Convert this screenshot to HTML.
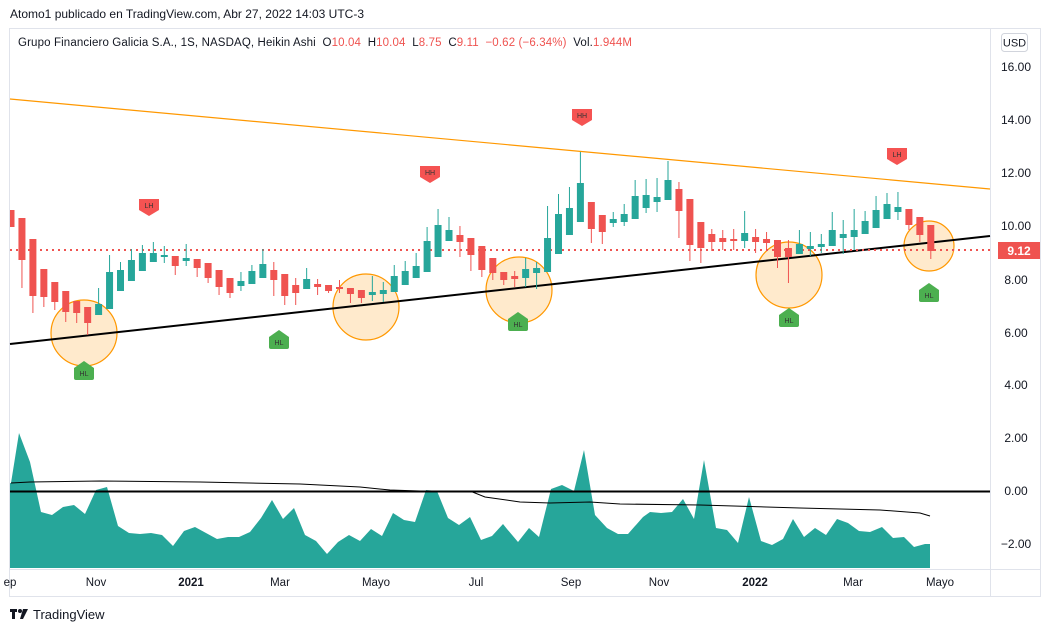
<!DOCTYPE html>
<html><head><meta charset="utf-8"><style>
body{margin:0;background:#fff;width:1050px;height:632px;overflow:hidden;font-family:"Liberation Sans",sans-serif;}
svg{position:absolute;left:0;top:0}
</style></head><body>
<svg id="s" width="1050" height="632" xmlns="http://www.w3.org/2000/svg" font-family="Liberation Sans, sans-serif">
<text x="10" y="18" font-size="12" fill="#131722">Atomo1 publicado en TradingView.com, Abr 27, 2022 14:03 UTC-3</text>
<rect x="9.5" y="28.5" width="1031" height="568" fill="#fff" stroke="#e0e3eb"/>
<line x1="990.5" y1="28" x2="990.5" y2="597" stroke="#e0e3eb"/>
<line x1="9" y1="569.5" x2="1040" y2="569.5" stroke="#e0e3eb"/>
<text x="18" y="46" font-size="11.5" fill="#131722" textLength="614" lengthAdjust="spacing" xml:space="preserve">Grupo Financiero Galicia S.A., 1S, NASDAQ, Heikin Ashi  O<tspan fill="#ef5350">10.04</tspan>  H<tspan fill="#ef5350">10.04</tspan>  L<tspan fill="#ef5350">8.75</tspan>  C<tspan fill="#ef5350">9.11  −0.62 (−6.34%)</tspan>  Vol.<tspan fill="#ef5350">1.944M</tspan></text>
<rect x="1001.5" y="33.5" width="26" height="18" rx="3" fill="#fff" stroke="#d1d4dc"/>
<text x="1014.5" y="46.5" font-size="11" text-anchor="middle" fill="#131722">USD</text>
<g font-size="12" fill="#131722" text-anchor="middle">
<text x="1016" y="71">16.00</text><text x="1016" y="124">14.00</text><text x="1016" y="177">12.00</text><text x="1016" y="230">10.00</text><text x="1016" y="284">8.00</text><text x="1016" y="337">6.00</text><text x="1016" y="389">4.00</text><text x="1016" y="442">2.00</text><text x="1016" y="495">0.00</text><text x="1016" y="548">−2.00</text>
</g>
<g font-size="11.5" fill="#131722" text-anchor="middle">
<text x="10" y="586">ep</text><text x="96" y="586">Nov</text><text x="191" y="586" font-weight="bold">2021</text><text x="280" y="586">Mar</text><text x="376" y="586">Mayo</text><text x="476" y="586">Jul</text><text x="571" y="586">Sep</text><text x="659" y="586">Nov</text><text x="755" y="586" font-weight="bold">2022</text><text x="853" y="586">Mar</text><text x="940" y="586">Mayo</text>
</g>
<g id="ind"></g>
<line x1="10" y1="491.5" x2="990" y2="491.5" stroke="#000" stroke-width="2"/>
<polyline fill="none" stroke="#000" stroke-width="1" points="11,483 30,482 100,481 200,482 300,484 360,487 390,490 420,491 470,491 485,497 520,502 550,503 590,502 620,504 700,505 800,508 880,510 920,513 930,516"/>
<g id="circ"></g>
<line x1="10" y1="99" x2="990" y2="189" stroke="#ff9800" stroke-width="1.2"/>
<line x1="10" y1="344" x2="990" y2="236" stroke="#000" stroke-width="2"/>
<line x1="10" y1="250" x2="990" y2="250" stroke="#ef5350" stroke-width="2" stroke-dasharray="2,4"/>
<g id="c"></g>
<g id="lab"></g>
<rect x="998" y="242" width="42" height="17" fill="#ef5350"/>
<text x="1019" y="255" font-size="12" font-weight="bold" fill="#fff" text-anchor="middle">9.12</text>
<g transform="translate(10,607)"><rect x="0" y="2" width="7" height="3" fill="#131722"/><rect x="2" y="2" width="3" height="10" fill="#131722"/><circle cx="10" cy="4" r="2" fill="#131722"/><path d="M13 2h5l-5 10h-3z" fill="#131722"/></g>
<text x="33" y="619" font-size="13" fill="#131722">TradingView</text>
</svg>
<script>
var NS="http://www.w3.org/2000/svg";
function el(p,t,a){var e=document.createElementNS(NS,t);for(var k in a)e.setAttribute(k,a[k]);document.getElementById(p).appendChild(e);return e;}
var ind="11,483 19,433 30,462 41,512 52,515 63,507 74,505 85,514 96,490 107,487 118,526 129,533 140,534 151,533 162,535 173,546 184,531 195,527 206,533 217,539 228,537 239,537 250,532 261,518 272,500 283,519 294,508 305,535 316,541 327,554 338,542 349,535 360,541 371,529 382,536 393,513 404,520 415,522 426,490 437,491 448,518 459,525 470,517 481,540 492,536 503,524 507,529 518,542 529,528 539,537 551,489 562,485 574,491 584,450 595,515 607,528 618,534 628,534 643,517 650,512 661,513 672,512 683,499 694,519 704,460 716,528 727,530 738,543 749,497 761,541 772,545 783,539 793,519 804,537 815,528 826,535 837,519 848,523 859,531 870,532 882,527 893,538 904,537 914,547 925,544 930,544";
el("ind","polygon",{points:"10,568 10,483 "+ind+" 930,568",fill:"#26a69a"});
[[84,333,33],[366,307,33],[519,290,33],[789,275,33],[929,246,25]].forEach(function(c){el("circ","circle",{cx:c[0],cy:c[1],r:c[2],fill:"rgba(255,152,0,0.2)",stroke:"#ff9800","stroke-width":1.2});});
var d=[["r",210,227,210,227],["r",218,260,218,288],["r",239,296,239,313],["r",269,297,269,307],["r",282,302,282,310],["r",291,312,291,322],["r",301,313,301,323],["r",307,323,307,335],["g",304,315,288,315],["g",272,309,255,309],["g",270,291,262,291],["g",260,281,249,281],["g",253,271,245,271],["g",253,262,242,262],["g",255,257,246,263],["r",256,266,256,275],["g",258,261,244,266],["r",259,268,259,277],["r",263,278,263,283],["r",270,287,270,295],["r",278,293,278,298],["g",281,286,272,291],["g",271,284,265,284],["g",264,278,249,278],["r",270,280,262,296],["r",274,296,274,305],["r",285,293,278,305],["g",279,289,268,289],["r",284,287,279,295],["r",285,291,285,293],["r",287,289,280,293],["r",288,294,288,303],["r",290,298,290,303],["g",292,295,276,301],["g",290,294,282,302],["g",276,292,265,292],["g",271,285,261,285],["g",266,278,253,278],["g",241,272,227,272],["g",225,257,209,257],["g",230,241,217,241],["r",235,242,226,257],["r",238,255,238,271],["r",246,270,246,277],["r",258,273,258,280],
["r",272,280,272,285],["r",276,279,271,287],["g",269,278,258,287],["g",268,273,262,289],["g",238,272,206,272],["g",214,254,194,254],["g",208,235,187,235],["g",183,222,152,222],["r",202,229,202,243],["r",215,232,215,244],["g",219,223,212,227],["g",214,222,204,226],["g",196,219,180,219],["g",195,208,179,213],["g",197,202,178,212],["g",180,200,161,200],["r",189,211,182,238],["r",199,245,199,261],["r",222,248,222,263],["r",234,242,229,251],["r",238,242,230,250],["r",239,241,229,250],["g",233,241,211,248],["r",237,242,229,253],["r",239,243,232,251],["r",240,257,240,268],["r",248,257,240,283],["g",244,254,230,254],["g",246,249,232,256],["g",244,247,234,253],["g",230,246,212,246],["g",234,238,220,254],["g",230,237,209,250],["g",221,234,211,234],["g",210,228,196,228],["g",204,219,193,219],["g",207,212,192,220],["r",209,225,209,230],["r",217,235,217,242],["r",225,251,225,259]];
d.forEach(function(v,i){var x=11+i*10.95;var col=v[0]=="r"?"#ef5350":"#26a69a";
el("c","line",{x1:x,x2:x,y1:v[3],y2:v[4],stroke:col,"stroke-width":1});
var x0=Math.max(10,x-3.5);el("c","rect",{x:x0,y:v[1],width:(x+3.5-x0),height:Math.max(2,v[2]-v[1]),fill:col});});
function lab(x,y,t,up){var col=up?"#4caf50":"#f55352";
 if(up){el("lab","path",{d:"M"+(x-10)+" "+(y-4)+" l10 -7 l10 7 v10 a2 2 0 0 1 -2 2 h-16 a2 2 0 0 1 -2 -2z",fill:col});}
 else{el("lab","path",{d:"M"+(x-10)+" "+(y-10)+" h20 v11 l-10 6 l-10 -6z",fill:col});}
 var tx=el("lab","text",{x:x,y:up?y+4:y-1,"font-size":7,"text-anchor":"middle",fill:"#333"});tx.textContent=t;}
lab(149,209,"LH",0);lab(430,176,"HH",0);lab(582,119,"HH",0);lab(897,158,"LH",0);
lab(84,372,"HL",1);lab(279,341,"HL",1);lab(518,323,"HL",1);lab(789,319,"HL",1);lab(929,294,"HL",1);
</script>
</body></html>
